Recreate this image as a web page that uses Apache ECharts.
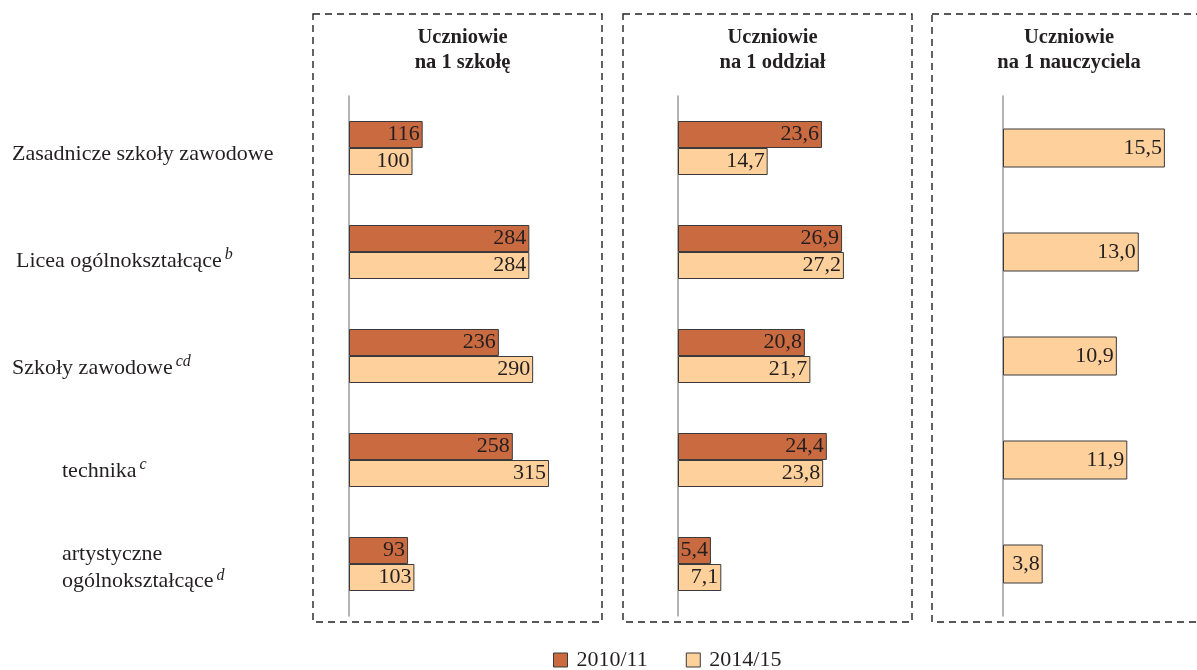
<!DOCTYPE html>
<html>
<head>
<meta charset="utf-8">
<script src="https://cdn.jsdelivr.net/npm/echarts@6/dist/echarts.min.js"></script>
<style>
  html, body { margin: 0; padding: 0; background: #fff; }
  #chart { width: 1197px; height: 670px; }
</style>
</head>
<body>
<div id="chart"></div>
<script>
"use strict";

var categories = ['Zasadnicze szkoły zawodowe', 'Licea ogólnokształcące', 'Szkoły zawodowe', 'technika', 'artystyczne\nogólnokształcące'];
var footnotes = ['', 'b', 'cd', 'c', 'd'];
var seriesNames = ['2010/11', '2014/15'];
var panelTitles = ['Uczniowie\nna 1 szkołę', 'Uczniowie\nna 1 oddział', 'Uczniowie\nna 1 nauczyciela'];

var perSchool2010 = [116, 284, 236, 258, 93];
var perSchool2014 = [100, 284, 290, 315, 103];
var perClass2010 = [23.6, 26.9, 20.8, 24.4, 5.4];
var perClass2014 = [14.7, 27.2, 21.7, 23.8, 7.1];
var perTeacher2014 = [15.5, 13.0, 10.9, 11.9, 3.8];

var COLOR_OLD = '#c96a40';
var COLOR_NEW = '#fdd09c';
var FONT = '"Liberation Serif", "DejaVu Serif", serif';
var TEXT = '#231f20';

var chart = echarts.init(document.getElementById('chart'));

function intLabel(p) { return String(p.value); }
function decLabel(p) { return p.value.toFixed(1).replace('.', ','); }

function barSeries(name, data, idx, width, fmt) {
	return {
		name: name,
		type: 'bar',
		xAxisIndex: idx,
		yAxisIndex: idx,
		data: data,
		barWidth: width,
		barGap: '0%',
		itemStyle: {
			color: name === seriesNames[0] ? COLOR_OLD : COLOR_NEW,
			borderColor: '#3a3a3a',
			borderWidth: 1
		},
		label: {
			show: true,
			position: 'insideRight',
			distance: 3,
			formatter: fmt,
			fontFamily: FONT,
			fontSize: 22,
			color: TEXT
		}
	};
}

// panel frames: [left, width]
var panels = [[313, 289], [623, 289], [932, 272]];
var grids = [
	{ left: 349, top: 96, width: 254, height: 520 },
	{ left: 678, top: 96, width: 244, height: 520 },
	{ left: 1003, top: 96, width: 188, height: 520 }
];
var maxes = [400, 40, 18];

// per-label style: [top nudge, indent]
var labelNudge = [[12, 0], [18, 4], [24, 0], [22, 50], [8, 50]];

var rich = {};
labelNudge.forEach(function(n, k) {
	var st = { fontFamily: FONT, fontSize: 22, color: TEXT, padding: [n[0], 0, 0, n[1]] };
	if (k === 4) { st.lineHeight = 27; }
	rich['t' + k] = st;
	rich['s' + k] = {
		fontFamily: FONT, fontSize: 16, fontStyle: 'italic', color: TEXT,
		padding: [Math.max(0, n[0] - 12), 0, Math.max(0, 12 - n[0]), 3]
	};
});

var xAxes = [], yAxes = [];
for (var i = 0; i < 3; i++) {
	xAxes.push({ type: 'value', gridIndex: i, min: 0, max: maxes[i], show: false });
	yAxes.push({
		type: 'category',
		gridIndex: i,
		data: categories,
		inverse: true,
		axisLine: { show: true, lineStyle: { color: '#9a9a9a', width: 1.5 } },
		axisTick: { show: false },
		splitLine: { show: false },
		axisLabel: i === 0 ? {
			show: true,
			align: 'left',
			margin: 337,
			fontFamily: FONT,
			fontSize: 22,
			color: TEXT,
			formatter: function(value, index) {
				var out = value.split('\n').map(function(line) {
					return '{t' + index + '|' + line + '}';
				}).join('\n');
				if (footnotes[index]) {
					out += '{s' + index + '|' + footnotes[index] + '}';
				}
				return out;
			},
			rich: rich
		} : { show: false }
	});
}

var titles = panelTitles.map(function(t, k) {
	return {
		text: t,
		left: k === 2 ? 1064 : panels[k][0] + panels[k][1] / 2,
		top: 20,
		textAlign: 'center',
		textStyle: { fontFamily: FONT, fontSize: 20.5, fontWeight: 'bold', color: TEXT, lineHeight: 25 }
	};
});

var frames = panels.map(function(p) {
	return {
		type: 'rect',
		shape: { x: p[0], y: 14, width: p[1], height: 608 },
		style: { fill: 'none', stroke: '#222', lineWidth: 1.4, lineDash: [7, 5] },
		z: 0
	};
});

chart.setOption({
	animation: false,
	backgroundColor: '#fff',
	title: titles,
	legend: {
		data: seriesNames,
		top: 644,
		left: 548,
		itemWidth: 14,
		itemHeight: 14,
		itemGap: 38,
		icon: 'rect',
		textStyle: { fontFamily: FONT, fontSize: 22, color: TEXT, padding: [0, 0, 0, 4] },
		itemStyle: { borderColor: '#3a3a3a', borderWidth: 1 }
	},
	graphic: frames,
	grid: grids,
	xAxis: xAxes,
	yAxis: yAxes,
	series: [
		barSeries(seriesNames[0], perSchool2010, 0, 27, intLabel),
		barSeries(seriesNames[1], perSchool2014, 0, 27, intLabel),
		barSeries(seriesNames[0], perClass2010, 1, 27, decLabel),
		barSeries(seriesNames[1], perClass2014, 1, 27, decLabel),
		barSeries(seriesNames[1], perTeacher2014, 2, 39, decLabel)
	]
});
</script>
</body>
</html>
